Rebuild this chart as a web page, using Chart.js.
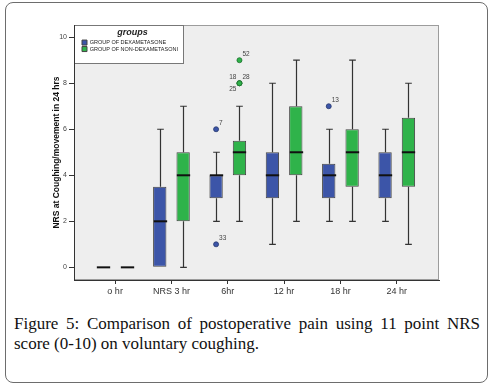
<!DOCTYPE html>
<html>
<head>
<meta charset="utf-8">
<script src="https://cdn.jsdelivr.net/npm/chart.js@4.4.0/dist/chart.umd.min.js"></script>
<style>
  html, body { margin: 0; padding: 0; background: #fff; }
  #page { position: relative; width: 492px; height: 388px; overflow: hidden; }
  #frame { position: absolute; left: 5px; top: 2px; width: 481px; height: 379px;
           border: 1px solid #6d6d6d; border-radius: 8px; }
  #chartBox { position: absolute; left: 0; top: 0; width: 492px; height: 300px; }
  #caption { position: absolute; left: 14px; top: 314px; width: 466px;
             font-family: "Liberation Serif", serif; font-size: 17px; line-height: 20px;
             color: #111; }
  #caption .l1 { text-align: justify; text-align-last: justify; }
</style>
</head>
<body>
<div id="page">
  <div id="frame"></div>
  <div id="chartBox"><canvas id="boxChart" width="492" height="300"></canvas></div>
  <div id="caption"><div class="l1">Figure 5: Comparison of postoperative pain using 11 point NRS</div><div>score (0-10) on voluntary coughing.</div></div>
</div>
<script>
// time points on the x axis
const timeLabels = ["o hr", "NRS 3 hr", "6hr", "12 hr", "18 hr", "24 hr"];
const yTicks = [0, 2, 4, 6, 8, 10];

// group of dexametasone (blue)
const dexMin = [0, 0, 2, 1, 2, 2];
const dexQ1  = [0, 0, 3, 3, 3, 3];
const dexMed = [0, 2, 4, 4, 4, 4];
const dexQ3  = [0, 3.5, 4, 5, 4.5, 5];
const dexMax = [0, 6, 5, 8, 6, 6];
const dexOutCat = [2, 2, 4];
const dexOutVal = [6, 1, 7];
const dexOutId  = ["7", "33", "13"];

// group of non-dexametasoni (green)
const nonMin = [0, 0, 2, 2, 2, 1];
const nonQ1  = [0, 2, 4, 4, 3.5, 3.5];
const nonMed = [0, 4, 5, 5, 5, 5];
const nonQ3  = [0, 5, 5.5, 7, 6, 6.5];
const nonMax = [0, 7, 7, 9, 9, 8];
const nonOutCat = [2, 2, 2, 2];
const nonOutVal = [9, 8, 8, 8];
const nonOutId  = ["52", "18", "28", "25"];

// where each outlier id sits relative to its point
const dexOutSide = ["ne", "ne", "ne"];
const nonOutSide = ["ne", "nw", "ne", "sw"];

const blue = "#3c55a8";
const green = "#2fb34a";

const groups = [
  { min: dexMin, q1: dexQ1, med: dexMed, q3: dexQ3, max: dexMax,
    outCat: dexOutCat, outVal: dexOutVal, outId: dexOutId, side: dexOutSide, color: blue, edge: "#27386f" },
  { min: nonMin, q1: nonQ1, med: nonMed, q3: nonQ3, max: nonMax,
    outCat: nonOutCat, outVal: nonOutVal, outId: nonOutId, side: nonOutSide, color: green, edge: "#1d6e2d" }
];

function boxData(g) {
  return timeLabels.map((_, i) => ({ x: i, y: g.q1[i] === g.q3[i] ? null : [g.q1[i], g.q3[i]] }));
}

const boxPlugin = {
  id: "boxPlot",
  afterLayout(chart) {
    // keep the legend inside the top left corner of the plot
    const lg = chart.legend, a = chart.chartArea;
    if (lg) {
      lg.left = a.left + 7;
      lg.right = lg.left + lg.width;
      lg.top = a.top;
      lg.bottom = lg.top + lg.height;
    }
  },
  beforeDraw(chart) {
    const { ctx, chartArea: a } = chart;
    ctx.save();
    ctx.fillStyle = "#eeeeee";
    ctx.fillRect(a.left, a.top, a.right - a.left, a.bottom - a.top);
    ctx.strokeStyle = "#9c9c9c";
    ctx.lineWidth = 1;
    ctx.strokeRect(a.left + 0.5, a.top + 0.5, a.right - a.left - 1, a.bottom - a.top - 1);
    const lg = chart.legend;
    if (lg) {
      const w = lg.right - a.left;
      ctx.fillStyle = "#ffffff";
      ctx.fillRect(a.left, lg.top, w, lg.height);
      ctx.strokeStyle = "#777";
      ctx.strokeRect(a.left + 0.5, lg.top + 0.5, w - 1, lg.height - 1);
    }
    ctx.restore();
  },
  afterDatasetsDraw(chart) {
    const { ctx } = chart;
    const ys = chart.scales.y;
    ctx.save();
    groups.forEach((g, gi) => {
      const meta = chart.getDatasetMeta(gi);
      const px = (i) => meta.data[i].x;
      const w = meta.data[0].width;
      timeLabels.forEach((_, i) => {
        const x = Math.round(px(i)) + 0.5;
        const yMin = ys.getPixelForValue(g.min[i]);
        const yMax = ys.getPixelForValue(g.max[i]);
        const yQ1 = ys.getPixelForValue(g.q1[i]);
        const yQ3 = ys.getPixelForValue(g.q3[i]);
        const yMed = ys.getPixelForValue(g.med[i]);
        ctx.strokeStyle = "#333";
        ctx.lineWidth = 1.2;
        if (g.max[i] > g.q3[i]) {
          ctx.beginPath();
          ctx.moveTo(x, yQ3); ctx.lineTo(x, yMax);
          ctx.moveTo(x - w / 4, yMax); ctx.lineTo(x + w / 4, yMax);
          ctx.stroke();
        }
        if (g.min[i] < g.q1[i]) {
          ctx.beginPath();
          ctx.moveTo(x, yQ1); ctx.lineTo(x, yMin);
          ctx.moveTo(x - w / 4, yMin); ctx.lineTo(x + w / 4, yMin);
          ctx.stroke();
        }
        ctx.strokeStyle = "#111";
        ctx.lineWidth = 2;
        ctx.beginPath();
        ctx.moveTo(x - w / 2, yMed); ctx.lineTo(x + w / 2, yMed);
        ctx.stroke();
      });
      ctx.font = "6.5px 'Liberation Sans', Arial, sans-serif";
      g.outVal.forEach((v, k) => {
        const x = px(g.outCat[k]);
        const y = ys.getPixelForValue(v);
        ctx.beginPath();
        ctx.arc(x, y, 2.5, 0, Math.PI * 2);
        ctx.fillStyle = g.color;
        ctx.fill();
        ctx.strokeStyle = g.edge;
        ctx.lineWidth = 0.8;
        ctx.stroke();
        const s = g.side[k];
        ctx.fillStyle = "#444";
        ctx.textBaseline = "middle";
        ctx.textAlign = s.endsWith("e") ? "left" : "right";
        const tx = s.endsWith("e") ? x + 3 : x - 3;
        const ty = s.startsWith("n") ? y - 6 : y + 6;
        ctx.fillText(g.outId[k], tx, ty);
      });
    });
    ctx.restore();
  }
};

Chart.defaults.font.family = "'Liberation Sans', Arial, sans-serif";

new Chart(document.getElementById("boxChart"), {
  type: "bar",
  data: {
    datasets: [
      { label: "GROUP OF DEXAMETASONE", data: boxData(groups[0]),
        backgroundColor: blue, borderColor: "#444", borderWidth: 1, borderSkipped: false },
      { label: "GROUP OF NON-DEXAMETASONI", data: boxData(groups[1]),
        backgroundColor: green, borderColor: "#444", borderWidth: 1, borderSkipped: false }
    ]
  },
  options: {
    responsive: false,
    animation: false,
    categoryPercentage: 0.83,
    barPercentage: 0.57,
    layout: { padding: { top: 25, right: 53, left: 0, bottom: 0 } },
    scales: {
      x: {
        type: "linear", min: -0.73, max: 5.75, offset: false,
        afterBuildTicks: (s) => { s.ticks = timeLabels.map((_, i) => ({ value: i })); },
        afterFit: (s) => { s.height = 20; },
        ticks: { callback: (v) => timeLabels[v], color: "#333", font: { size: 9 }, padding: 2, maxRotation: 0 },
        grid: { display: true, drawOnChartArea: false, drawTicks: true, tickLength: 4, color: "#333", offset: false },
        border: { display: true, color: "#333", width: 1 }
      },
      y: {
        min: -0.55, max: 10.53,
        afterBuildTicks: (s) => { s.ticks = yTicks.map((v) => ({ value: v })); },
        afterFit: (s) => { s.width = 74; },
        ticks: { color: "#444", font: { size: 7 }, padding: 2 },
        grid: { display: true, drawOnChartArea: false, drawTicks: true, tickLength: 5, color: "#333" },
        border: { display: true, color: "#333", width: 1 },
        title: { display: true, text: "NRS at Coughing/movement in 24 hrs", color: "#111",
                 font: { size: 8.5, weight: "bold" }, padding: { top: 52, bottom: 0 } }
      }
    },
    plugins: {
      legend: {
        position: "chartArea",
        align: "start",
        maxHeight: 39,
        maxWidth: 103,
        title: { display: true, text: "groups", color: "#222",
                 font: { size: 9, style: "italic", weight: "bold" }, padding: { top: 3, bottom: 0 } },
        labels: { boxWidth: 5, boxHeight: 5, padding: 1, color: "#222", font: { size: 5.5 } }
      },
      tooltip: { enabled: false }
    }
  },
  plugins: [boxPlugin]
});
</script>
</body>
</html>
